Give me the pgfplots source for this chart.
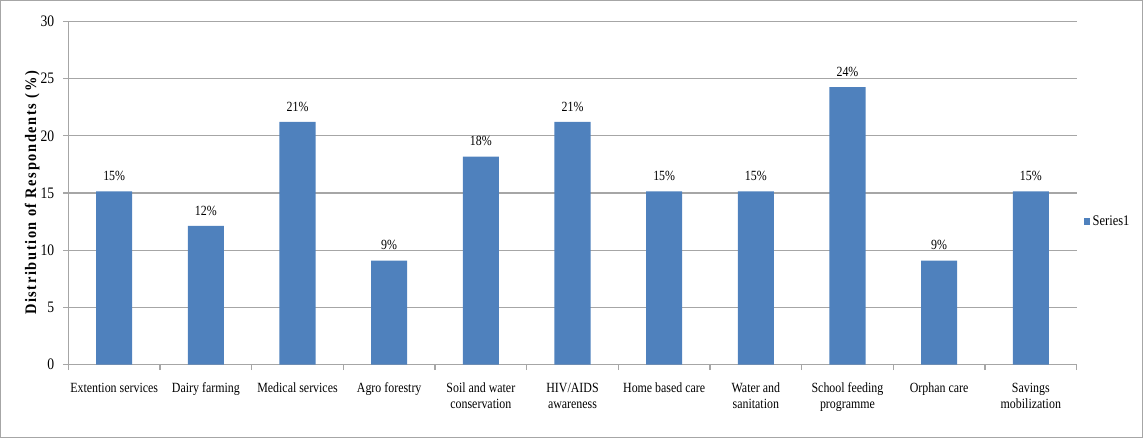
\documentclass[border=0pt]{standalone}
\usepackage{pgfplots}
\pgfplotsset{compat=1.18}
\usepackage{fontspec}
\setmainfont{Liberation Serif}
\newfontfamily\cond[FakeStretch=0.85]{Liberation Serif}
\newfontfamily\condbold[FakeStretch=0.9, LetterSpace=10]{Liberation Serif Bold}
\definecolor{barblue}{HTML}{4F81BD}
\definecolor{gridgray}{HTML}{A6A6A6}
\begin{document}
\begin{tikzpicture}
\begin{axis}[
  at={(0,0)}, anchor=south west,
  scale only axis,
  width=755.25pt, height=257.25pt,
  ymin=0, ymax=30, ytick={0,5,...,30},
  xmin=-0.5, xmax=10.5,
  xtick={0,...,10},
  minor xtick={-0.5,0.5,...,10.5},
  xticklabels={Extention services,Dairy farming,Medical services,Agro forestry,{Soil and water\\conservation},{HIV/AIDS\\awareness},Home based care,{Water and\\sanitation},{School feeding\\programme},Orphan care,{Savings\\mobilization}},
  xticklabel style={align=center, font=\cond\fontsize{10.5}{12}\selectfont, anchor=north, yshift=-6pt},
  yticklabel style={font=\cond\fontsize{12}{13}\selectfont, xshift=-3pt},
  /pgf/number format/assume math mode=true,
  axis x line*=bottom, axis y line*=left,
  axis line style={gridgray, line width=0.8pt},
  major x tick style={draw=none},
  minor x tick style={gridgray, line width=0.8pt},
  major y tick style={gridgray, line width=0.8pt},
  tick align=outside,
  major tick length=4pt, minor tick length=4pt,
  ymajorgrids, grid style={gridgray, line width=0.8pt},
  ylabel={Distribution of Respondents (\%)},
  ylabel style={font=\condbold\fontsize{12}{13}\selectfont, yshift=-6pt},
  ybar, bar width=27pt,
  nodes near coords={\pgfmathprintnumber[fixed,precision=0]{\pgfplotspointmeta}\%},
  nodes near coords style={font=\cond\fontsize{10.5}{11}\selectfont, yshift=4.5pt},
  legend style={at={(rel axis cs:1.003,0.417)}, anchor=west, draw=none, fill=none, font=\cond\fontsize{11}{12}\selectfont},
  legend image code/.code={\fill[barblue] (0cm,-0.1cm) rectangle (0.16cm,0.1cm);},
  clip=false,
]
\addplot[fill=barblue, draw=none] coordinates {
(0,15.15) (1,12.12) (2,21.21) (3,9.09) (4,18.18) (5,21.21) (6,15.15) (7,15.15) (8,24.24) (9,9.09) (10,15.15)};
\addlegendentry{Series1}
\end{axis}
\draw[gray!70] (-51pt,-54pt) rectangle (804.75pt,273pt);
\end{tikzpicture}
\end{document}
